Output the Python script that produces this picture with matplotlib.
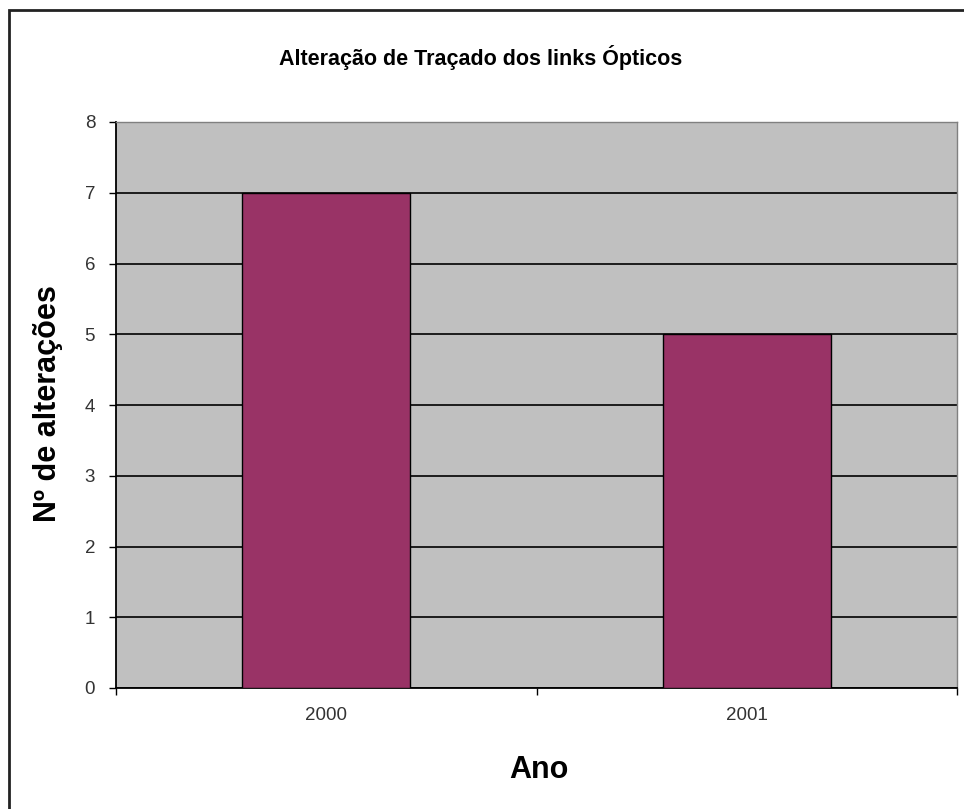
import matplotlib.pyplot as plt
from matplotlib.patches import Rectangle
from matplotlib.ticker import FixedLocator, NullFormatter

plt.rcParams['font.family'] = ['Liberation Sans', 'DejaVu Sans']

anos = ['2000', '2001']
alteracoes = [7, 5]
y_ticks = [0, 1, 2, 3, 4, 5, 6, 7, 8]

fig = plt.figure(figsize=(9.64, 8.09), dpi=100)

# outer chart frame (cut off on right and bottom, like the screenshot)
fig.patches.append(Rectangle((9 / 964, -0.01), 1.0, 1 - 10 / 809 + 0.01,
                             transform=fig.transFigure, fill=False,
                             edgecolor='#222222', lw=2.0))

ax = fig.add_axes([116 / 964, 1 - 688 / 809, (957 - 116) / 964, (688 - 122) / 809])
ax.set_facecolor('#C0C0C0')

pos = range(len(anos))
ax.bar(pos, alteracoes, width=0.4, color='#993366', edgecolor='black', lw=1.0, zorder=3)

ax.set_xlim(-0.5, len(anos) - 0.5)
ax.set_ylim(0, 8)
ax.set_yticks(y_ticks)
ax.yaxis.grid(True, color='black', lw=1.2, zorder=1)
ax.set_axisbelow(True)

# category boundaries as major ticks, labels on minor ticks
ax.xaxis.set_major_locator(FixedLocator([-0.5, 0.5, 1.5]))
ax.xaxis.set_major_formatter(NullFormatter())
ax.xaxis.set_minor_locator(FixedLocator(list(pos)))
ax.set_xticklabels(anos, minor=True)
ax.tick_params(axis='x', which='minor', length=0, pad=14, labelsize=13.5, labelcolor='#333333')
ax.tick_params(axis='x', which='major', length=5, width=1, direction='out')
ax.tick_params(axis='y', length=5, width=1, direction='out', pad=10, labelsize=13.5, labelcolor='#333333')

for side in ['left', 'bottom']:
    ax.spines[side].set_color('black')
    ax.spines[side].set_linewidth(1.3)
for side in ['top', 'right']:
    ax.spines[side].set_color('#808080')
    ax.spines[side].set_linewidth(1.0)

fig.text(481 / 964, 1 - 57 / 809, 'Alteração de Traçado dos links Ópticos',
         ha='center', va='center', fontsize=15.5, fontweight='bold')
fig.text(48 / 964, 1 - 404 / 809, 'Nº de alterações', rotation=90,
         ha='center', va='center', fontsize=22, fontweight='bold')
fig.text(539 / 964, 1 - 770 / 809, 'Ano', ha='center', va='center',
         fontsize=22, fontweight='bold')

fig.savefig('out.png', dpi=100)
